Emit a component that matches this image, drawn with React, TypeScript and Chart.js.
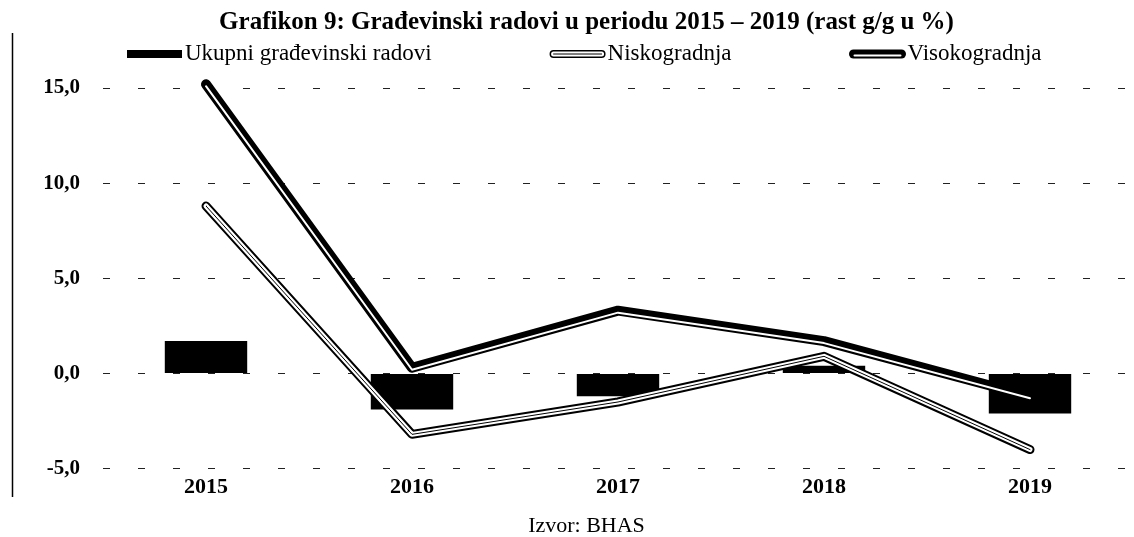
import React, { useEffect, useRef } from 'react';
import { Chart, registerables } from 'chart.js';

Chart.register(...registerables);

const categories = ['2015', '2016', '2017', '2018', '2019'];
const ukupni = [1.7, -1.9, -1.2, 0.4, -2.1];
const niskogradnja = [8.8, -3.2, -1.5, 0.9, -4.0];
const visokogradnja = [15.2, 0.3, 3.3, 1.7, -1.2];
const yTicks = [-5, 0, 5, 10, 15];
const seriesLabels = ['Ukupni građevinski radovi', 'Niskogradnja', 'Visokogradnja'];
const titleText = 'Grafikon 9: Građevinski radovi u periodu 2015 – 2019 (rast g/g u %)';
const sourceText = 'Izvor: BHAS';

const FONT = '"Liberation Serif", "Times New Roman", serif';

function drawIcon(ctx: CanvasRenderingContext2D, i: number, x: number, y: number) {
  ctx.save();
  ctx.lineCap = 'round';
  if (i === 0) {
    ctx.fillStyle = '#000';
    ctx.fillRect(x, y - 4, 55, 8);
  } else if (i === 1) {
    ctx.beginPath();
    ctx.moveTo(x + 4, y);
    ctx.lineTo(x + 52, y);
    ctx.strokeStyle = '#000';
    ctx.lineWidth = 8;
    ctx.stroke();
    ctx.strokeStyle = '#fff';
    ctx.lineWidth = 5;
    ctx.stroke();
    ctx.strokeStyle = '#000';
    ctx.lineWidth = 1;
    ctx.stroke();
  } else {
    ctx.beginPath();
    ctx.moveTo(x + 4, y);
    ctx.lineTo(x + 52, y);
    ctx.strokeStyle = '#000';
    ctx.lineWidth = 9;
    ctx.stroke();
    ctx.beginPath();
    ctx.moveTo(x + 5, y + 1.5);
    ctx.lineTo(x + 51, y + 1.5);
    ctx.strokeStyle = '#fff';
    ctx.lineWidth = 2;
    ctx.stroke();
  }
  ctx.restore();
}

const legendPlugin = {
  id: 'customLegend',
  afterDraw(chart: any) {
    const ctx: CanvasRenderingContext2D = chart.ctx;
    ctx.save();
    // page frame line on the left
    ctx.beginPath();
    ctx.moveTo(12.5, 33);
    ctx.lineTo(12.5, 497);
    ctx.strokeStyle = '#000';
    ctx.lineWidth = 1.5;
    ctx.stroke();

    ctx.font = `23px ${FONT}`;
    ctx.textBaseline = 'middle';
    ctx.textAlign = 'left';
    ctx.fillStyle = '#000';
    const y = 54;
    let x = 127;
    seriesLabels.forEach((label, i) => {
      drawIcon(ctx, i, x, y);
      const tx = x + 58;
      ctx.fillText(label, tx, y);
      x = tx + ctx.measureText(label).width + 118;
    });
    ctx.restore();
  },
};

const offsetPlugin = {
  id: 'offsetLines',
  beforeDatasetDraw(chart: any, args: any) {
    const ds = chart.data.datasets[args.index];
    if (ds.offsetY) {
      chart.ctx.save();
      chart.ctx.translate(0, ds.offsetY);
    }
  },
  afterDatasetDraw(chart: any, args: any) {
    const ds = chart.data.datasets[args.index];
    if (ds.offsetY) chart.ctx.restore();
  },
};

function lineDs(label: string, data: number[], color: string, width: number, order: number, extra: any = {}) {
  return {
    type: 'line' as const,
    label,
    data,
    borderColor: color,
    backgroundColor: color,
    borderWidth: width,
    pointRadius: 0,
    pointHoverRadius: 0,
    tension: 0,
    fill: false,
    clip: false,
    borderCapStyle: 'round',
    borderJoinStyle: 'round',
    order,
    ...extra,
  };
}

export default function App() {
  const ref = useRef<HTMLCanvasElement | null>(null);

  useEffect(() => {
    document.body.style.margin = '0';
    const canvas = ref.current;
    if (!canvas) return;
    const chart = new Chart(canvas, {
      type: 'bar',
      data: {
        labels: categories,
        datasets: [
          {
            type: 'bar',
            label: seriesLabels[0],
            data: ukupni,
            backgroundColor: '#000',
            borderWidth: 0,
            barPercentage: 0.5,
            categoryPercentage: 0.8,
            order: 10,
          } as any,
          lineDs(seriesLabels[1], niskogradnja, '#000', 9, 9),
          lineDs(seriesLabels[1], niskogradnja, '#fff', 5, 8),
          lineDs(seriesLabels[1], niskogradnja, '#000', 1, 7),
          lineDs(seriesLabels[2], visokogradnja, '#000', 10, 6),
          lineDs(seriesLabels[2], visokogradnja, '#fff', 2, 5, { offsetY: 2 }),
        ] as any,
      },
      options: {
        responsive: false,
        animation: false,
        events: [],
        layout: { padding: { left: 40, right: 1, top: 0, bottom: 0 } },
        plugins: {
          legend: { display: false },
          tooltip: { enabled: false },
          title: {
            display: true,
            text: titleText,
            color: '#000',
            font: { family: FONT, size: 25, weight: 'bold', lineHeight: 1.2 },
            padding: { top: 8, bottom: 50 },
          },
          subtitle: {
            display: true,
            position: 'bottom',
            text: sourceText,
            color: '#000',
            font: { family: FONT, size: 22, weight: 'normal', lineHeight: 1 },
            padding: { top: 8, bottom: 0 },
          },
        },
        scales: {
          x: {
            type: 'category',
            offset: true,
            grid: { display: false, drawTicks: false },
            border: { display: false },
            ticks: {
              color: '#000',
              font: { family: FONT, size: 22, weight: 'bold' },
              padding: 6,
            },
          },
          y: {
            type: 'linear',
            min: -5,
            max: 15,
            afterBuildTicks: (s: any) => {
              s.ticks = yTicks.map((v) => ({ value: v }));
            },
            afterFit: (s: any) => {
              s.width = 63;
            },
            grid: { color: '#222', lineWidth: 1, drawTicks: false },
            border: { display: false, dash: [7, 28] },
            ticks: {
              color: '#000',
              padding: 23,
              font: { family: FONT, size: 21, weight: 'bold' },
              callback: (v: any) => Number(v).toFixed(1).replace('.', ','),
            },
          },
        },
      } as any,
      plugins: [legendPlugin, offsetPlugin],
    });
    return () => chart.destroy();
  }, []);

  return (
    <div style={{ width: 1134, height: 537 }}>
      <canvas ref={ref} width={1134} height={537} style={{ display: 'block', width: 1134, height: 537 }} />
    </div>
  );
}
